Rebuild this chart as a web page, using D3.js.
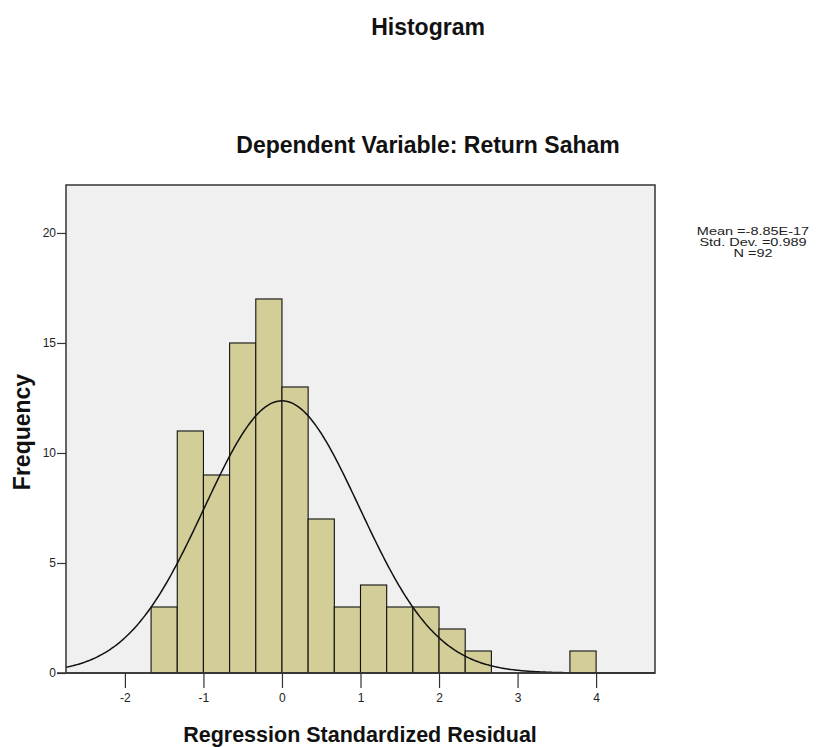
<!DOCTYPE html>
<html><head><meta charset="utf-8">
<script src="https://cdn.jsdelivr.net/npm/d3@7"></script>
<style>body{margin:0;background:#fff;} svg{display:block;}</style>
</head><body>
<svg id="c" width="819" height="747"></svg>
<script>
// Data
const binStart = -5/3;
const binWidth = 1/3;
const counts = [3, 11, 9, 15, 17, 13, 7, 3, 4, 3, 3, 2, 1, 0, 0, 0, 1];
const xTicks = [-2, -1, 0, 1, 2, 3, 4];
const yTicks = [0, 5, 10, 15, 20];
const statMean = -8.85e-17, statSD = 0.989, statN = 92;
const statLines = ["Mean =-8.85E-17", "Std. Dev. =0.989", "N =92"];

const svg = d3.select("#c");
const L = 66, R = 655, T = 185, B = 673;
const x = d3.scaleLinear().domain([-2.75, 4.75]).range([L, R]);
const y = d3.scaleLinear().domain([0, 22.18]).range([B, T]);

const font = "'Liberation Sans', Arial, sans-serif";

svg.append("rect").attr("x", L).attr("y", T).attr("width", R - L).attr("height", B - T)
  .attr("fill", "#f0f0f0");

const bins = counts.map((c, i) => ({x0: binStart + i * binWidth, x1: binStart + (i + 1) * binWidth, c}));
svg.append("g").selectAll("rect").data(bins.filter(d => d.c > 0)).join("rect")
  .attr("x", d => x(d.x0)).attr("width", d => x(d.x1) - x(d.x0))
  .attr("y", d => y(d.c)).attr("height", d => y(0) - y(d.c))
  .attr("fill", "#d3ce97").attr("stroke", "#111").attr("stroke-width", 1.1);

// Normal curve from stated mean/sd/N
const scaleF = statN * binWidth;
const pts = d3.range(-2.75, 4.7501, 0.02).map(v => [v, scaleF / (statSD * Math.sqrt(2 * Math.PI)) * Math.exp(-0.5 * Math.pow((v - statMean) / statSD, 2))]);
svg.append("path").datum(pts)
  .attr("d", d3.line().x(d => x(d[0])).y(d => y(d[1])))
  .attr("fill", "none").attr("stroke", "#111").attr("stroke-width", 1.5);

// frame
svg.append("rect").attr("x", L).attr("y", T).attr("width", R - L).attr("height", B - T)
  .attr("fill", "none").attr("stroke", "#333").attr("stroke-width", 1.5);

// axes
const xAxis = d3.axisBottom(x).tickValues(xTicks).tickSize(15).tickPadding(5).tickFormat(d => String(d));
const gx = svg.append("g").attr("transform", `translate(0,${B})`).call(xAxis);
gx.select(".domain").remove();
const yAxis = d3.axisLeft(y).tickValues(yTicks).tickSize(9).tickPadding(1).tickFormat(d => String(d));
const gy = svg.append("g").attr("transform", `translate(${L},0)`).call(yAxis);
gy.select(".domain").remove();
[gx, gy].forEach(g => {
  g.selectAll("line").attr("stroke", "#333").attr("stroke-width", 1.2);
  g.selectAll("text").attr("font-family", font).attr("font-size", 12).attr("fill", "#222");
});
svg.append("line").attr("x1", L - 9).attr("x2", R).attr("y1", B).attr("y2", B)
  .attr("stroke", "#333").attr("stroke-width", 1.5);

// titles
svg.append("text").attr("x", 428).attr("y", 35).attr("text-anchor", "middle")
  .attr("font-family", font).attr("font-weight", "bold").attr("font-size", 23).attr("fill", "#111").text("Histogram");
svg.append("text").attr("x", 428).attr("y", 153).attr("text-anchor", "middle")
  .attr("font-family", font).attr("font-weight", "bold").attr("font-size", 23).attr("fill", "#111").text("Dependent Variable: Return Saham");
svg.append("text").attr("x", 360).attr("y", 742).attr("text-anchor", "middle")
  .attr("font-family", font).attr("font-weight", "bold").attr("font-size", 21.5).attr("fill", "#111").text("Regression Standardized Residual");
svg.append("text").attr("transform", "translate(30,432) rotate(-90)").attr("text-anchor", "middle")
  .attr("font-family", font).attr("font-weight", "bold").attr("font-size", 23).attr("fill", "#111").text("Frequency");

// stats box
svg.append("g").attr("transform", "translate(753,0) scale(1.45,1)")
  .selectAll("text").data(statLines).join("text")
  .attr("x", 0).attr("y", (d, i) => 235 + i * 11).attr("text-anchor", "middle")
  .attr("font-family", font)
  .attr("font-size", 10).attr("fill", "#222").text(d => d);
</script>
</body></html>
